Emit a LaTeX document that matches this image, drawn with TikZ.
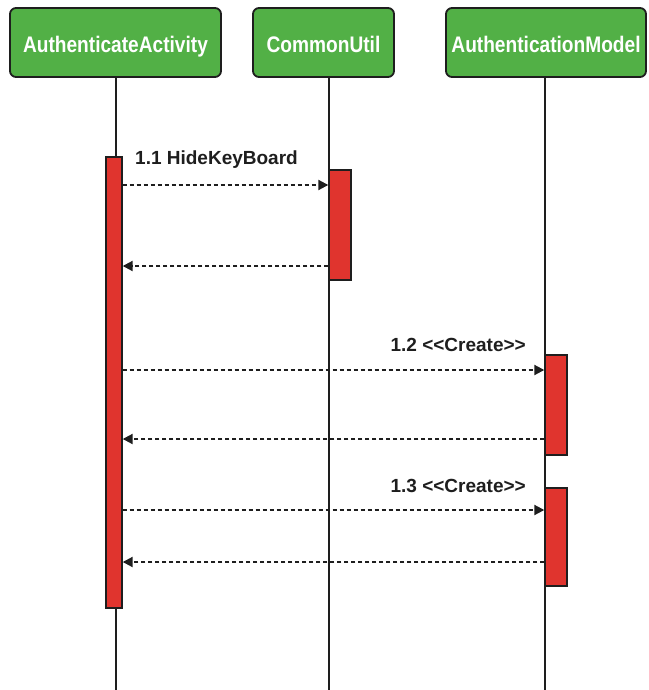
\documentclass[tikz,border=0pt]{standalone}
\usepackage{fontspec}
\setmainfont{Liberation Sans}
\newfontfamily\hdrfont{Liberation Sans}[FakeStretch=0.85]
\usetikzlibrary{arrows.meta}
\definecolor{hdrgreen}{RGB}{82,176,70}
\definecolor{barred}{RGB}{224,52,46}
\definecolor{ink}{RGB}{30,30,30}
\tikzset{
  header/.style={draw=ink, line width=1.8pt, fill=hdrgreen, rounded corners=6pt,
    text=white, font=\hdrfont\bfseries\fontsize{22.5}{24}\selectfont,
    minimum height=69pt, inner sep=0pt, text height=20pt, text depth=0pt},
  life/.style={draw=ink, line width=1.4pt},
  actbar/.style={draw=ink, line width=1.4pt, fill=barred, inner sep=0pt, minimum width=16pt},
  msg/.style={draw=ink, line width=2pt, dash pattern=on 4.5pt off 2.5pt,
    -{Triangle[length=10pt,width=10pt]}},
  msglabel/.style={text=ink, font=\bfseries\fontsize{19}{21}\selectfont, inner sep=0pt}
}
\newcommand{\guil}[1]{{<}{<}#1{>}{>}}
\begin{document}
\begin{tikzpicture}[x=1pt,y=-1pt]
\useasboundingbox (0,0) rectangle (648,690);
\fill[white] (0,0) rectangle (648,690);

% participants
\node[header, minimum width=211pt] (aa) at (115.5,42.5) {AuthenticateActivity};
\node[header, minimum width=141pt] (cu) at (323.5,42.5) {CommonUtil};
\node[header, minimum width=200pt] (am) at (546,42.5) {AuthenticationModel};

% lifeline ends
\coordinate (aaTop) at (116,77);
\coordinate (aaEnd) at (116,690);
\coordinate (cuTop) at (329,77);
\coordinate (cuEnd) at (329,690);
\coordinate (amTop) at (545,77);
\coordinate (amEnd) at (545,690);
\draw[life] (aaTop) -- (aaEnd);
\draw[life] (cuTop) -- (cuEnd);
\draw[life] (amTop) -- (amEnd);

% activation bars
\node[actbar, minimum height=451pt] (aaBar) at (114,382.5) {};
\node[actbar, minimum width=22pt, minimum height=110pt] (cuBar) at (340,225) {};
\node[actbar, minimum width=22pt, minimum height=100pt] (amBarA) at (556,405) {};
\node[actbar, minimum width=22pt, minimum height=98pt] (amBarB) at (556,537) {};

% messages
\draw[msg] (aaBar.east |- 0,185) -- (cuBar.west |- 0,185);
\node[msglabel, anchor=west] (l11) at (135,160) {1.1 HideKeyBoard};
\draw[msg] (cuBar.west |- 0,266) -- (aaBar.east |- 0,266);

\draw[msg] (aaBar.east |- 0,370) -- (amBarA.west |- 0,370);
\node[msglabel, anchor=east] (l12) at (526,345) {1.2 \guil{Create}};
\draw[msg] (amBarA.west |- 0,439) -- (aaBar.east |- 0,439);

\draw[msg] (aaBar.east |- 0,510) -- (amBarB.west |- 0,510);
\node[msglabel, anchor=east] (l13) at (526,486) {1.3 \guil{Create}};
\draw[msg] (amBarB.west |- 0,562) -- (aaBar.east |- 0,562);
\end{tikzpicture}
\end{document}
